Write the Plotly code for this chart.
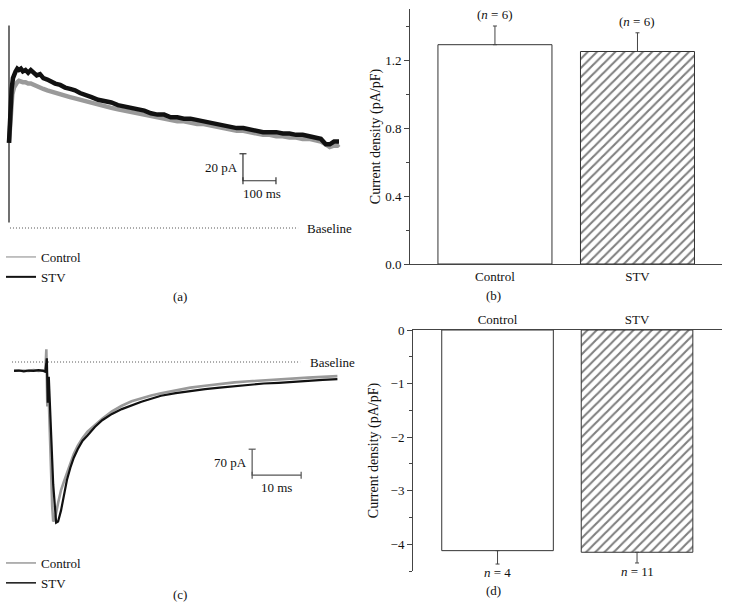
import plotly.graph_objects as go

W, H = 731, 609
FONT = "Liberation Serif"
AX = "#444444"
GRAY = "#9a9a9a"
BLACK = "#111111"
TXT = "#111111"
FS = 13

# ---------------- data ----------------
# Panel (a): outward current traces (time in ms, current in pA)
a_artifact_t = [0, 0]
a_artifact_i = [150, 4]
a_t_stv = [0, 1, 4, 8, 12, 16, 20, 25, 30, 36, 42, 50, 58, 66, 74, 84, 94, 104, 116, 128, 140,
           155, 170, 185, 200, 215, 230, 250, 270, 290, 310, 330, 350, 370, 390, 410, 430, 450, 470,
           490, 510, 530, 550, 570, 590, 610, 630, 650, 670, 690, 710, 730, 750, 770, 790, 810, 830,
           850, 870, 890, 910, 930, 945, 960, 972, 985, 995, 1000]
a_i_stv = [63, 70, 88, 103, 111, 115, 116, 118, 117, 118, 116, 117, 115, 117, 115, 113, 114, 111, 110, 108, 107,
           106, 104, 103, 102, 100, 99, 97, 95, 94, 93, 91, 90, 89, 88, 87, 85, 84, 84,
           82, 82, 81, 81, 80, 79, 78, 77, 76, 75, 74, 74, 73, 72, 71, 71, 71, 70,
           70, 69, 69, 68, 67, 66, 62, 62, 64, 64, 64]
a_t_ctrl = [0, 3, 6, 10, 15, 20, 25, 30, 36, 42, 50, 58, 66, 74, 84, 94, 104, 116, 128, 140,
            155, 170, 185, 200, 215, 230, 250, 270, 290, 310, 330, 350, 370, 390, 410, 430, 450, 470,
            490, 510, 530, 550, 570, 590, 610, 630, 650, 670, 690, 710, 730, 750, 770, 790, 810, 830,
            850, 870, 890, 910, 930, 945, 960, 972, 985, 995, 1000]
a_i_ctrl = [63, 78, 90, 99, 104, 107, 108, 109, 108, 108, 108, 107, 107, 106, 105, 104, 103, 102, 101, 100,
            99, 98, 97, 96, 95, 94, 93, 91, 90, 89, 88, 87, 86, 85, 84, 83, 82, 81,
            80, 79, 79, 78, 77, 77, 76, 75, 74, 73, 72, 72, 71, 70, 69, 69, 68, 68,
            67, 67, 66, 66, 65, 64, 62, 60, 61, 61, 62]

# Panel (c): inward current traces (time in ms, current in pA)
c_t_stv = [0, 1, 2, 3, 4, 5, 6, 6.4, 6.7, 6.9, 7.1, 7.5, 8.0, 8.6, 9.0, 9.6, 10.2, 10.8, 11.5, 12.2,
           13.0, 14.0, 15.0, 16.5, 18, 20, 22, 24, 26, 28, 30, 33, 36, 39, 42, 45, 48, 51, 54, 57,
           60, 63, 66]
c_i_stv = [-24, -23, -25, -23, -24, -22, -24, -26, 10, -110, -40, -190, -330, -433, -430, -400, -360, -318, -285, -258,
           -235, -212, -198, -175, -157, -140, -127, -116, -107, -99, -91, -84, -78, -73, -69, -65, -61, -58, -56, -53,
           -51, -48, -46]
c_t_ctrl = [0, 1, 2, 3, 4, 5, 6, 6.4, 6.6, 6.8, 7.0, 7.4, 7.8, 8.0, 8.4, 9.0, 9.6, 10.2, 10.8, 11.5,
            12.2, 13, 14, 15, 16.5, 18, 20, 22, 24, 26, 28, 30, 33, 36, 39, 42, 45, 48, 51, 54,
            57, 60, 63, 66]
c_i_ctrl = [-23, -24, -23, -24, -22, -24, -23, -25, 34, -120, -60, -250, -390, -430, -420, -380, -345, -322, -300, -272,
            -248, -226, -205, -188, -170, -153, -133, -118, -106, -97, -90, -84, -76, -69, -64, -59, -55, -52, -49, -46,
            -44, -42, -40, -38]

# Scale bars
a_bar_pA, a_bar_ms = 20, 100
c_bar_pA, c_bar_ms = 70, 10

# Panels (b) and (d): current density bars
groups = ["Control", "STV"]
b_mean = [1.29, 1.25]
b_err = [0.11, 0.11]
b_n = [6, 6]
d_mean = [-4.12, -4.15]
d_err = [0.25, 0.20]
d_n = [4, 11]

# ---------------- layout helpers ----------------
def xd(x0, x1):
    return [x0 / W, x1 / W]

def yd(y0, y1):
    return [1 - y1 / H, 1 - y0 / H]

# pixel calibration of trace panels
A_X0, A_PXMS, A_Y0, A_PXPA = 9, 0.33, 228, 1.35
C_X0, C_PXMS, C_Y0, C_PXPA = 14, 4.9, 362, 0.371

fig = go.Figure()
nolegend = dict(showlegend=False, hoverinfo="skip")

# ---- panel (a) ----
fig.add_trace(go.Scatter(x=a_t_ctrl, y=a_i_ctrl, mode="lines", line=dict(color=GRAY, width=4.5),
                         xaxis="x", yaxis="y", **nolegend))
fig.add_trace(go.Scatter(x=a_t_stv, y=a_i_stv, mode="lines", line=dict(color=BLACK, width=4.5),
                         xaxis="x", yaxis="y", **nolegend))
fig.add_trace(go.Scatter(x=a_artifact_t, y=a_artifact_i, mode="lines", line=dict(color=BLACK, width=1.2),
                         xaxis="x", yaxis="y", **nolegend))
fig.add_trace(go.Scatter(x=[3, 876], y=[0, 0], mode="lines", line=dict(color="#555", width=1, dash="1px,2px"),
                         xaxis="x", yaxis="y", **nolegend))
t0a, i0a = 709, 35
fig.add_trace(go.Scatter(x=[t0a, t0a, t0a + a_bar_ms], y=[i0a + a_bar_pA, i0a, i0a],
                         mode="lines+markers", line=dict(color="#333", width=1.2),
                         marker=dict(symbol=["line-ew", "line-ns", "line-ns"], size=5,
                                     line=dict(color="#333", width=1.2)),
                         xaxis="x", yaxis="y", **nolegend))
fig.add_trace(go.Scatter(x=[None], y=[None], mode="lines", name="Control", line=dict(color=GRAY, width=1.2),
                         xaxis="x", yaxis="y", legend="legend"))
fig.add_trace(go.Scatter(x=[None], y=[None], mode="lines", name="STV", line=dict(color=BLACK, width=2),
                         xaxis="x", yaxis="y", legend="legend"))

# ---- panel (c) ----
fig.add_trace(go.Scatter(x=c_t_ctrl, y=c_i_ctrl, mode="lines", line=dict(color=GRAY, width=2.6),
                         xaxis="x2", yaxis="y2", **nolegend))
fig.add_trace(go.Scatter(x=c_t_stv, y=c_i_stv, mode="lines", line=dict(color=BLACK, width=2.2),
                         xaxis="x2", yaxis="y2", **nolegend))
fig.add_trace(go.Scatter(x=[-0.4, 58.4], y=[0, 0], mode="lines", line=dict(color="#555", width=1, dash="1px,2px"),
                         xaxis="x2", yaxis="y2", **nolegend))
t0c, i0c = 48.6, -305
fig.add_trace(go.Scatter(x=[t0c, t0c, t0c + c_bar_ms], y=[i0c + c_bar_pA, i0c, i0c],
                         mode="lines+markers", line=dict(color="#555", width=1.2),
                         marker=dict(symbol=["line-ew", "line-ns", "line-ns"], size=5,
                                     line=dict(color="#555", width=1.2)),
                         xaxis="x2", yaxis="y2", **nolegend))
fig.add_trace(go.Scatter(x=[None], y=[None], mode="lines", name="Control", line=dict(color=GRAY, width=1.5),
                         xaxis="x2", yaxis="y2", legend="legend2"))
fig.add_trace(go.Scatter(x=[None], y=[None], mode="lines", name="STV", line=dict(color=BLACK, width=1.5),
                         xaxis="x2", yaxis="y2", legend="legend2"))

# ---- panel (b) ----
hatch = dict(shape="/", size=6.5, solidity=0.32, fgcolor="#000", bgcolor="white")
for k in range(2):
    fig.add_trace(go.Bar(x=[k], y=[b_mean[k]], width=0.8,
                         marker=dict(color="white", line=dict(color="#333", width=1),
                                     pattern=hatch if k == 1 else None),
                         error_y=dict(type="data", symmetric=False, array=[b_err[k]], arrayminus=[0],
                                      color=AX, thickness=1, width=2),
                         xaxis="x3", yaxis="y3", **nolegend))

# ---- panel (d) ----
for k in range(2):
    fig.add_trace(go.Bar(x=[k], y=[d_mean[k]], width=0.8,
                         marker=dict(color="white", line=dict(color="#333", width=1),
                                     pattern=hatch if k == 1 else None),
                         error_y=dict(type="data", symmetric=False, array=[0], arrayminus=[d_err[k]],
                                      color=AX, thickness=1, width=2),
                         xaxis="x4", yaxis="y4", **nolegend))

hidden = dict(visible=False, fixedrange=True, automargin=False)

annotations = []
tf = dict(family=FONT, size=FS, color=TXT)
annotations.append(dict(xref="x", yref="y", x=876, y=0, text="Baseline", showarrow=False,
                        xanchor="left", xshift=7, font=tf))
annotations.append(dict(xref="x2", yref="y2", x=58.4, y=0, text="Baseline", showarrow=False,
                        xanchor="left", xshift=8, font=tf))
annotations.append(dict(xref="x", yref="y", x=t0a, y=i0a + a_bar_pA / 2, text=f"{a_bar_pA} pA",
                        showarrow=False, xanchor="right", xshift=-3, font=tf))
annotations.append(dict(xref="x", yref="y", x=t0a + a_bar_ms / 2, y=i0a, text=f"{a_bar_ms} ms",
                        showarrow=False, yanchor="top", yshift=-3, xshift=3, font=tf))
annotations.append(dict(xref="x2", yref="y2", x=t0c, y=i0c + c_bar_pA / 2, text=f"{c_bar_pA} pA",
                        showarrow=False, xanchor="right", xshift=-3, font=tf))
annotations.append(dict(xref="x2", yref="y2", x=t0c + c_bar_ms / 2, y=i0c, text=f"{c_bar_ms} ms",
                        showarrow=False, yanchor="top", yshift=-3, font=tf))
for k in range(2):
    annotations.append(dict(xref="x3", yref="y3", x=k, y=b_mean[k] + b_err[k],
                            text=f"(<i>n</i> = {b_n[k]})", showarrow=False, yanchor="bottom", yshift=2, font=tf))
    annotations.append(dict(xref="x4", yref="y4", x=k, y=d_mean[k] - d_err[k],
                            text=f"<i>n</i> = {d_n[k]}", showarrow=False, yanchor="top", yshift=1, font=tf))
for txt, px, py in [("(a)", 180, 296), ("(b)", 493, 295), ("(c)", 180, 594), ("(d)", 493, 590)]:
    annotations.append(dict(xref="paper", yref="paper", x=px / W, y=1 - py / H, text=txt,
                            showarrow=False, xanchor="center", yanchor="middle", font=tf))

yaxis_common = dict(showline=True, linecolor=AX, linewidth=1, ticks="outside", ticklen=5, tickcolor=AX,
                    showgrid=False, zeroline=False, fixedrange=True, automargin=False,
                    tickfont=dict(family=FONT, size=FS, color=TXT))
xcat_common = dict(showline=True, linecolor=AX, linewidth=1, ticks="", tickvals=[0, 1], ticktext=groups,
                   showgrid=False, zeroline=False, fixedrange=True, automargin=False,
                   tickfont=dict(family=FONT, size=FS, color=TXT))
title_font = dict(family=FONT, size=14, color=TXT)
ytitle_b = dict(text="Current density (pA/pF)", font=title_font, standoff=1)
ytitle_d = dict(text="Current density (pA/pF)", font=title_font, standoff=8)

fig.update_layout(
    width=W, height=H, margin=dict(l=0, r=0, t=0, b=0, autoexpand=False),
    paper_bgcolor="white", plot_bgcolor="rgba(0,0,0,0)",
    font=dict(family=FONT, size=FS, color=TXT),
    barmode="overlay",
    xaxis=dict(domain=xd(0, 360), range=[(0 - A_X0) / A_PXMS, (360 - A_X0) / A_PXMS], anchor="y", **hidden),
    yaxis=dict(domain=yd(0, 300), range=[(A_Y0 - 300) / A_PXPA, A_Y0 / A_PXPA], anchor="x", **hidden),
    xaxis2=dict(domain=xd(0, 360), range=[(0 - C_X0) / C_PXMS, (360 - C_X0) / C_PXMS], anchor="y2", **hidden),
    yaxis2=dict(domain=yd(310, 609), range=[-(609 - C_Y0) / C_PXPA, (C_Y0 - 310) / C_PXPA], anchor="x2", **hidden),
    xaxis3=dict(domain=xd(410, 722), range=[-0.596, 1.593], anchor="y3", **xcat_common),
    yaxis3=dict(domain=yd(9, 264), range=[0, 1.5], anchor="x3", dtick=0.4, tick0=0, tickformat=".1f",
                minor=dict(ticks="outside", ticklen=3, dtick=0.2, tick0=0, tickcolor=AX),
                title=ytitle_b, **yaxis_common),
    xaxis4=dict(domain=xd(413, 722), range=[-0.606, 1.609], anchor="y4", side="top", **xcat_common),
    yaxis4=dict(domain=yd(330, 571), range=[-4.5, 0], anchor="x4", dtick=1, tick0=0,
                minor=dict(ticks="outside", ticklen=3, dtick=0.5, tick0=0, tickcolor=AX),
                title=ytitle_d, **yaxis_common),
    legend=dict(x=1 / W, y=1 - 242 / H, xanchor="left", yanchor="top", bgcolor="rgba(0,0,0,0)",
                font=dict(family=FONT, size=FS, color=TXT), tracegroupgap=0),
    legend2=dict(x=1 / W, y=1 - 548 / H, xanchor="left", yanchor="top", bgcolor="rgba(0,0,0,0)",
                 font=dict(family=FONT, size=FS, color=TXT), tracegroupgap=0),
    annotations=annotations,
)

fig.write_html("out.html", config={"displayModeBar": False},
               post_script="document.body.style.margin='0px';document.body.style.overflow='hidden';")
